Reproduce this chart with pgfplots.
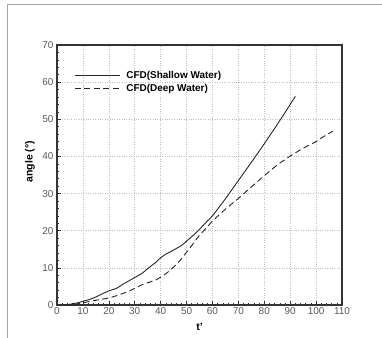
\documentclass[border=0pt]{standalone}
\usepackage{fontspec}
\setmainfont{Liberation Sans}
\usepackage{pgfplots}
\pgfplotsset{compat=1.18}
\begin{document}
\begin{tikzpicture}[x=1bp,y=1bp]
\path[use as bounding box] (0,0) rectangle (382,338);
\draw[gray!70, line width=0.8bp] (7,0) -- (7,334) -- (382,334);
\begin{axis}[
  at={(57bp,33bp)}, anchor=south west,
  scale only axis, width=285bp, height=260bp,
  xmin=0, xmax=110, ymin=0, ymax=70,
  xtick={0,10,...,110}, ytick={0,10,...,70},
  minor x tick num=4, minor y tick num=4,
  tick pos=left, tick align=inside,
  major tick length=4bp, minor tick length=2.2bp,
  every tick/.style={black!80, line width=0.6bp},
  axis line style={black!80, line width=1.1bp},
  grid=major, major grid style={black!25, dotted, line width=0.6bp},
  /pgf/number format/assume math mode=true,
  ticklabel style={font=\fontsize{10}{11}\selectfont, text=black!65},
  xticklabel style={yshift=1bp},
  xlabel={\textbf{t'}}, ylabel={\textbf{angle (°)}},
  label style={font=\fontsize{10.5}{11}\selectfont},
  xlabel style={at={(axis description cs:0.5,-0.083)}, anchor=center},
  ylabel style={at={(axis description cs:-0.095,0.551)}, anchor=center},
  legend style={at={(0.05,0.915)}, anchor=north west, draw=none, fill=none,
    font=\bfseries\fontsize{10}{11}\selectfont, row sep=0bp,
    /tikz/every odd column/.append style={column sep=4bp}},
  legend cell align=left,
  legend image code/.code={\draw[#1] (0bp,0bp) -- (45bp,0bp);},
]
\addplot[black!85, line width=0.9bp, smooth, tension=0.3] coordinates {
(3,0) (5,0.2) (8,0.6) (10,1.0) (13,1.6) (16,2.5) (18,3.2) (20,3.8) (23,4.5) (25,5.4) (28,6.6) (30,7.4) (33,8.6) (35,9.8) (38,11.4) (40,12.7) (42,13.7) (45,14.8) (48,16.0) (50,17.2) (53,19.0) (55,20.4) (58,22.6) (60,24.0) (65,28.6) (70,33.5) (75,38.4) (80,43.4) (85,48.6) (88,51.8) (92,56.2)
};
\addlegendentry{CFD(Shallow Water)}
\addplot[black!85, line width=0.9bp, dash pattern=on 6bp off 3.5bp, smooth, tension=0.3] coordinates {
(3,0) (5,0.1) (8,0.3) (10,0.6) (13,1.0) (16,1.4) (20,1.9) (23,2.5) (25,3.0) (28,3.8) (30,4.5) (33,5.5) (35,6.0) (38,6.7) (40,7.5) (42,8.4) (45,10.2) (48,12.4) (50,14.2) (52,16.0) (55,18.8) (58,21.0) (60,22.6) (65,25.8) (70,28.7) (75,31.8) (80,34.8) (85,37.7) (90,40.1) (95,42.2) (100,44.0) (103,45.4) (106.5,46.8)
};
\addlegendentry{CFD(Deep Water)}
\end{axis}
\end{tikzpicture}
\end{document}
